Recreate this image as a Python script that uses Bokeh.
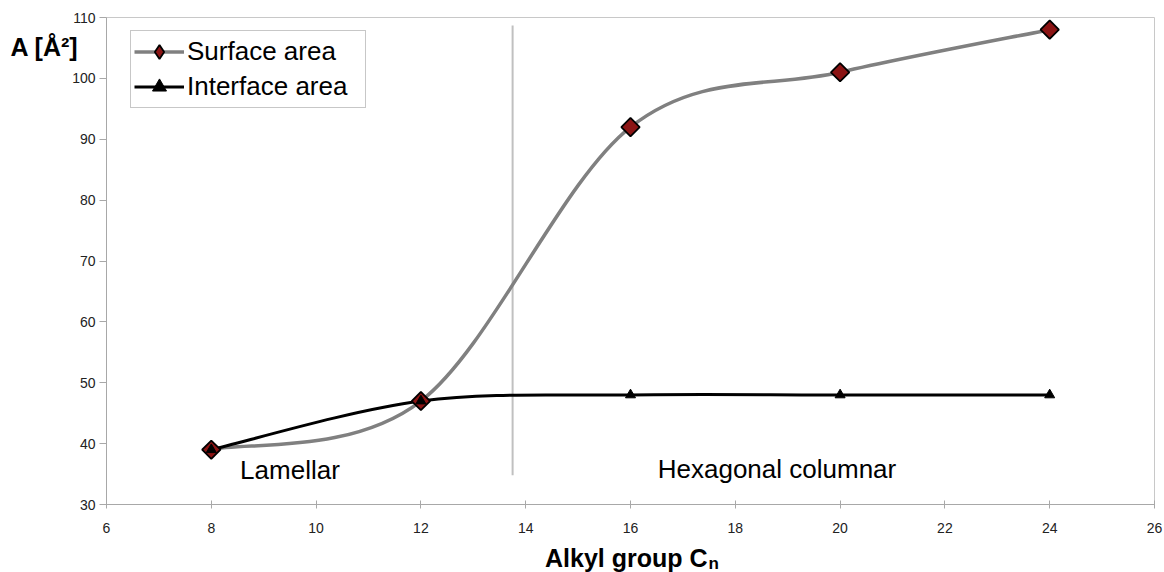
import numpy as np
from bokeh.plotting import figure
from bokeh.models import Range1d, Legend, LegendItem, Label, ColumnDataSource
from bokeh.embed import file_html
from bokeh.resources import INLINE

# ---- data ----
alkyl_n = [8, 12, 16, 20, 24]
surface_area = [39, 47, 92, 101, 108]
interface_area = [39, 47, 48, 48, 48]
x_ticks = [6, 8, 10, 12, 14, 16, 18, 20, 22, 24, 26]
y_ticks = [30, 40, 50, 60, 70, 80, 90, 100, 110]
boundary_x = 13.75
boundary_y = [34.8, 108.7]
FONT = "Liberation Sans"


def smooth_segments(xs, ys):
    """Excel-like smoothing: Catmull-Rom converted to cubic Bezier controls."""
    n = len(xs)
    d = dict(x0=[], y0=[], x1=[], y1=[], cx0=[], cy0=[], cx1=[], cy1=[])
    for i in range(n - 1):
        a = max(i - 1, 0)
        b = min(i + 2, n - 1)
        d["x0"].append(xs[i]); d["y0"].append(ys[i])
        d["x1"].append(xs[i + 1]); d["y1"].append(ys[i + 1])
        d["cx0"].append(xs[i] + (xs[i + 1] - xs[a]) / 6)
        d["cy0"].append(ys[i] + (ys[i + 1] - ys[a]) / 6)
        d["cx1"].append(xs[i + 1] - (xs[b] - xs[i]) / 6)
        d["cy1"].append(ys[i + 1] - (ys[b] - ys[i]) / 6)
    return ColumnDataSource(d)


p = figure(width=1164, height=572, output_backend="svg", toolbar_location=None,
           x_range=Range1d(6, 26), y_range=Range1d(30, 110),
           min_border_left=106, min_border_right=9, min_border_top=17, min_border_bottom=68)
p.background_fill_color = "white"
p.border_fill_color = "white"
p.outline_line_color = "#c8c8c8"
p.xgrid.visible = False
p.ygrid.visible = False

for ax in (p.xaxis, p.yaxis):
    ax.axis_line_color = "#a8a8a8"
    ax.major_tick_line_color = "#a8a8a8"
    ax.minor_tick_line_color = None
    ax.major_label_text_font = FONT
    ax.major_label_text_font_size = "14px"
    ax.major_label_text_color = "#222222"
p.xaxis.ticker = x_ticks
p.yaxis.ticker = y_ticks
p.xaxis.major_tick_in = 4
p.xaxis.major_tick_out = 4
p.xaxis.major_label_standoff = 14
p.yaxis.major_tick_in = 0
p.yaxis.major_tick_out = 7
p.yaxis.major_label_standoff = 4

# phase boundary
p.segment(x0=[boundary_x], y0=[boundary_y[0]], x1=[boundary_x], y1=[boundary_y[1]],
          line_color="#c0c0c0", line_width=2)

# smooth curves
p.bezier(source=smooth_segments(alkyl_n, surface_area), x0="x0", y0="y0", x1="x1", y1="y1",
         cx0="cx0", cy0="cy0", cx1="cx1", cy1="cy1",
         line_color="#808080", line_width=3.5, line_cap="round")
p.bezier(source=smooth_segments(alkyl_n, interface_area), x0="x0", y0="y0", x1="x1", y1="y1",
         cx0="cx0", cy0="cy0", cx1="cx1", cy1="cy1",
         line_color="black", line_width=3, line_cap="round")

# legend proxies: a one-point line draws nothing, zero-size markers are invisible
leg_s_line = p.line(alkyl_n[:1], surface_area[:1], line_color="#808080", line_width=3.5)
leg_s_mark = p.scatter(alkyl_n[:1], surface_area[:1], marker="diamond", size=0,
                       fill_color="#8b1414", line_color="black", line_width=1.8)
leg_i_line = p.line(alkyl_n[:1], interface_area[:1], line_color="black", line_width=3)
leg_i_mark = p.scatter(alkyl_n[:1], interface_area[:1], marker="triangle", size=0,
                       fill_color="black", line_color="black")

# markers
diam = p.scatter(alkyl_n, surface_area, marker="square", angle=np.pi / 4, size=13,
                 fill_color="#8b1414", line_color="black", line_width=1.8)
tri = p.scatter(alkyl_n, interface_area, marker="triangle", size=10,
                fill_color="black", line_color="black")

legend = Legend(items=[LegendItem(label="Surface area", renderers=[leg_s_line, leg_s_mark]),
                       LegendItem(label="Interface area", renderers=[leg_i_line, leg_i_mark])],
                location=(24, 396))
legend.label_text_font = FONT
legend.label_text_font_size = "26px"
legend.label_text_color = "black"
legend.glyph_width = 50
legend.glyph_height = 35
legend.label_height = 35
legend.label_width = 175
legend.label_standoff = 3
legend.spacing = 0
legend.padding = 3
legend.margin = 0
legend.border_line_color = "#909090"
legend.border_line_width = 1
legend.background_fill_color = "white"
p.add_layout(legend, "center")

# region labels
p.add_layout(Label(x=8.55, y=35.6, text="Lamellar", text_font=FONT, text_font_size="26px",
                   text_baseline="middle", text_align="left", text_color="black"))
p.add_layout(Label(x=16.52, y=35.9, text="Hexagonal columnar", text_font=FONT,
                   text_font_size="26px", text_baseline="middle", text_align="left",
                   text_color="black"))

# axis titles, placed in the side panels (canvas units)
p.add_layout(Label(x=10, y=46, x_units="canvas", y_units="canvas", text="A [Å²]",
                   text_font=FONT, text_font_size="25px", text_font_style="bold",
                   text_baseline="middle", text_align="left", text_color="black"), "left")
p.add_layout(Label(x=707, y=557, x_units="canvas", y_units="canvas", text="Alkyl group C",
                   text_font=FONT, text_font_size="25px", text_font_style="bold",
                   text_baseline="middle", text_align="right", text_color="black"), "below")
p.add_layout(Label(x=708, y=563, x_units="canvas", y_units="canvas", text="n",
                   text_font=FONT, text_font_size="17px", text_font_style="bold",
                   text_baseline="middle", text_align="left", text_color="black"), "right")

open("out.html", "w").write(file_html(p, INLINE))
